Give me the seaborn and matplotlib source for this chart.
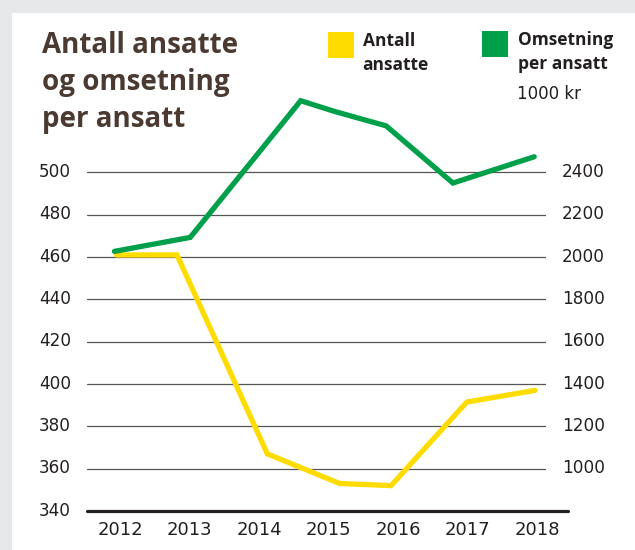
import matplotlib
matplotlib.use("Agg")
import matplotlib.pyplot as plt
from matplotlib.patches import Rectangle
from matplotlib.transforms import ScaledTranslation
import seaborn as sns
import pandas as pd

# ---- data ----
year_ticks = [2012, 2013, 2014, 2015, 2016, 2017, 2018]
year_labels = ["2012", "2013", "2014", "2015", "2016", "2017", "2018"]

# Antall ansatte (left axis)
antall_x = [2011.95, 2012.82, 2014.12, 2015.16, 2015.90, 2016.99, 2017.97]
antall_y = [461, 461, 367, 353, 352, 391.5, 397]

# Omsetning per ansatt, 1000 kr (right axis)
omsetning_x = [2011.92, 2013.01, 2014.60, 2015.09, 2015.83, 2016.79, 2017.96]
omsetning_y = [2027, 2093, 2739, 2688, 2620, 2350, 2474]

left_ticks = [340, 360, 380, 400, 420, 440, 460, 480, 500]
right_ticks = [1000, 1200, 1400, 1600, 1800, 2000, 2200, 2400]

YELLOW = "#FFDC00"
GREEN = "#00A04B"
TITLE_C = "#4a3a31"
TEXT_C = "#231f20"
GRID_C = "#555555"

sns.set_style("white")
plt.rcParams["font.family"] = ["DejaVu Sans"]

W, H = 635, 550
fig = plt.figure(figsize=(W / 100, H / 100), dpi=100)
fig.patch.set_facecolor("#e6e7e9")
fig.add_artist(Rectangle((12 / W, 0), 1 - 12 / W, 1 - 13 / H,
                         transform=fig.transFigure, facecolor="white",
                         edgecolor="none", zorder=0))

def px(x, y):
    return x / W, 1 - y / H

ax_l, ax_r, ax_t, ax_b = 87, 546, 95, 511
ax = fig.add_axes([ax_l / W, 1 - ax_b / H, (ax_r - ax_l) / W, (ax_b - ax_t) / H])
ax.set_facecolor("none")
ax2 = ax.twinx()

pxu = 2.116  # pixels per left unit
ymin = 340
ymax = 340 + (ax_b - ax_t) / pxu
ax.set_ylim(ymin, ymax)
ax2.set_ylim((ymin - 360) * 10 + 1000, (ymax - 360) * 10 + 1000)

x0 = 2012 - (120 - ax_l) / 69.5
x1 = 2012 + (ax_r - 120) / 69.5
ax.set_xlim(x0, x1)

for v in left_ticks[1:]:
    ax.axhline(v, color=GRID_C, lw=0.9, zorder=1)
ax.axhline(340, xmin=0, xmax=(568 - ax_l) / (ax_r - ax_l), color=TEXT_C,
           lw=2.3, zorder=3, clip_on=False)

df_a = pd.DataFrame({"x": antall_x, "y": antall_y})
df_o = pd.DataFrame({"x": omsetning_x, "y": omsetning_y})
sns.lineplot(data=df_a, x="x", y="y", ax=ax, color=YELLOW, lw=3.8,
             solid_capstyle="round", solid_joinstyle="miter", sort=False, zorder=2)
sns.lineplot(data=df_o, x="x", y="y", ax=ax2, color=GREEN, lw=3.8,
             solid_capstyle="round", solid_joinstyle="miter", sort=False, zorder=2)

ax.set_xticks(year_ticks)
ax.set_xticklabels(year_labels)
ax.set_yticks(left_ticks)
ax.set_yticklabels([str(v) for v in left_ticks])
ax2.set_yticks(right_ticks)
ax2.set_yticklabels([str(v) for v in right_ticks])
ax2.set_xlim(x0, x1)

for a in (ax, ax2):
    a.set_xlabel("")
    a.set_ylabel("")
    for s in a.spines.values():
        s.set_visible(False)
    a.grid(False)

ax.tick_params(axis="x", length=0, pad=7.5, labelsize=13, labelcolor=TEXT_C)
ax.tick_params(axis="y", length=0, pad=11.5, labelsize=12.2, labelcolor=TEXT_C)
ax2.tick_params(axis="y", length=0, pad=11.5, labelsize=12.2, labelcolor=TEXT_C)

off = ScaledTranslation(0, 2.5 / 100, fig.dpi_scale_trans)
for lab in ax.get_yticklabels() + ax2.get_yticklabels():
    lab.set_transform(lab.get_transform() + off)

BOLD_FAM = ["Open Sans", "DejaVu Sans"]

# ---- title ----
tx, ty = px(41.7, 31)
fig.text(tx, ty, "Antall ansatte\nog omsetning\nper ansatt", ha="left", va="top",
         fontsize=20, fontweight="bold", color=TITLE_C, family=BOLD_FAM,
         linespacing=1.36)

# ---- legend ----
fig.add_artist(Rectangle(px(328.3, 57.7), 25.7 / W, 25.7 / H, transform=fig.transFigure,
                         facecolor=YELLOW, edgecolor="none"))
fig.add_artist(Rectangle(px(482, 56.7), 25.7 / W, 25.7 / H, transform=fig.transFigure,
                         facecolor=GREEN, edgecolor="none"))
lx, ly = px(362.7, 32)
fig.text(lx, ly, "Antall\nansatte", ha="left", va="top", fontsize=12.5,
         fontweight="bold", color=TEXT_C, family=BOLD_FAM, linespacing=1.45)
lx, ly = px(518.3, 31)
fig.text(lx, ly, "Omsetning\nper ansatt", ha="left", va="top", fontsize=12.5,
         fontweight="bold", color=TEXT_C, family=BOLD_FAM, linespacing=1.45)
ux, uy = px(516.7, 99.3)
fig.text(ux, uy, "1000 kr", ha="left", va="baseline", fontsize=12, color=TEXT_C)

fig.savefig("out.png", dpi=100, facecolor=fig.get_facecolor())
